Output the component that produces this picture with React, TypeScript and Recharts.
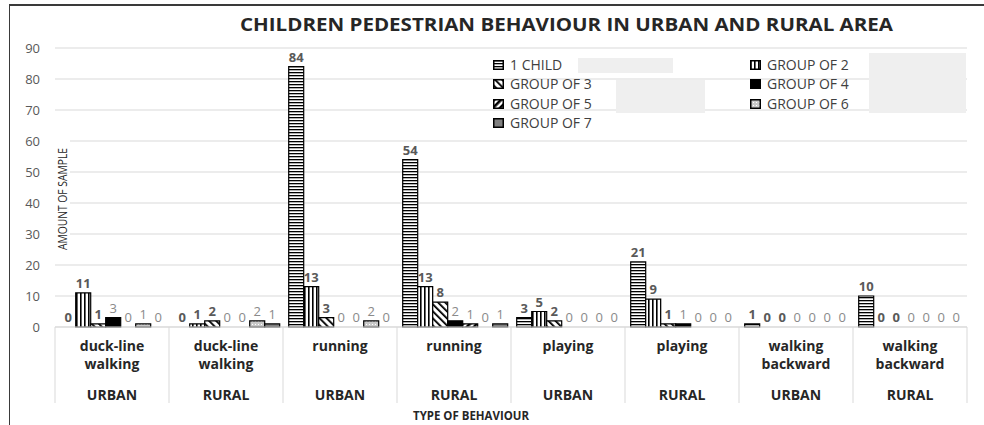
import React from 'react';
import {
  BarChart,
  Bar,
  XAxis,
  YAxis,
  CartesianGrid,
  Legend,
  Rectangle,
} from 'recharts';

const BEHAVIOURS = [
  'duck-line walking',
  'duck-line walking',
  'running',
  'running',
  'playing',
  'playing',
  'walking backward',
  'walking backward',
];
const AREAS = ['URBAN', 'RURAL', 'URBAN', 'RURAL', 'URBAN', 'RURAL', 'URBAN', 'RURAL'];

const ONE_CHILD = [0, 0, 84, 54, 3, 21, 1, 10];
const GROUP_OF_2 = [11, 1, 13, 13, 5, 9, 0, 0];
const GROUP_OF_3 = [1, 2, 3, 8, 2, 1, 0, 0];
const GROUP_OF_4 = [3, 0, 0, 2, 0, 1, 0, 0];
const GROUP_OF_5 = [0, 0, 0, 1, 0, 0, 0, 0];
const GROUP_OF_6 = [1, 2, 2, 0, 0, 0, 0, 0];
const GROUP_OF_7 = [0, 1, 0, 1, 0, 0, 0, 0];

const Y_TICKS = [0, 10, 20, 30, 40, 50, 60, 70, 80, 90];

const SERIES = [
  { key: 's1', name: '1 CHILD', values: ONE_CHILD, fill: 'url(#pat-h)', bold: true },
  { key: 's2', name: 'GROUP OF 2', values: GROUP_OF_2, fill: 'url(#pat-v)', bold: true },
  { key: 's3', name: 'GROUP OF 3', values: GROUP_OF_3, fill: 'url(#pat-d1)', bold: true },
  { key: 's4', name: 'GROUP OF 4', values: GROUP_OF_4, fill: '#000000', bold: false },
  { key: 's5', name: 'GROUP OF 5', values: GROUP_OF_5, fill: 'url(#pat-d2)', bold: false },
  { key: 's6', name: 'GROUP OF 6', values: GROUP_OF_6, fill: 'url(#pat-dot)', bold: false },
  { key: 's7', name: 'GROUP OF 7', values: GROUP_OF_7, fill: '#808080', bold: false },
];

const data = BEHAVIOURS.map((_, i) => {
  const row: Record<string, number | string> = { cat: String(i) };
  SERIES.forEach((s) => {
    row[s.key] = s.values[i];
  });
  return row;
});

const W = 984;
const H = 425;
const MARGIN = { top: 48, right: 17, bottom: 0, left: 0 };
const Y_W = 55;
const BAND = (W - MARGIN.left - MARGIN.right - Y_W) / BEHAVIOURS.length;
const FONT = '"Open Sans", sans-serif';

// legend slots: column x, row index
const LEGEND_POS: Record<string, [number, number]> = {
  s1: [493, 0],
  s2: [750, 0],
  s3: [493, 1],
  s4: [750, 1],
  s5: [493, 2],
  s6: [750, 2],
  s7: [493, 3],
};
const ROW_TOP = 56;
const ROW_H = 19.3;

function CategoryTick(props: any) {
  const { x, y, payload } = props;
  const i = Number(payload.value);
  const words = BEHAVIOURS[i].split(' ');
  const left = x - BAND / 2;
  const textStyle = { fontFamily: FONT, fontSize: 14, fontWeight: 700, fill: '#262626' };
  return (
    <g>
      <line x1={left} x2={left} y1={y} y2={y + 76} stroke="#d9d9d9" />
      {i === BEHAVIOURS.length - 1 && (
        <line x1={left + BAND} x2={left + BAND} y1={y} y2={y + 76} stroke="#d9d9d9" />
      )}
      {words.map((w, k) => (
        <text key={k} x={x} y={y + 24 + k * 18} textAnchor="middle" style={textStyle}>
          {w}
        </text>
      ))}
      <text x={x} y={y + 73} textAnchor="middle" style={textStyle}>
        {AREAS[i]}
      </text>
    </g>
  );
}

// bar rectangle plus its value label (zero-height bars still get their "0")
function makeBarShape(key: string, bold: boolean) {
  return (props: any) => {
    const { x, y, width, height, payload } = props;
    const value = payload ? payload[key] : props.value;
    return (
      <g>
        {height > 0 && <Rectangle {...props} />}
        <text
          x={Number(x) + Number(width) / 2}
          y={Number(y) - 5}
          textAnchor="middle"
          style={{
            fontFamily: FONT,
            fontSize: 13,
            fontWeight: bold ? 700 : 400,
            fill: bold ? '#595959' : '#8a8a8a',
          }}
        >
          {value}
        </text>
      </g>
    );
  };
}

function LegendIcon({ fill }: { fill: string }) {
  return (
    <svg width={11} height={10} style={{ position: 'absolute', left: 0, top: 4 }}>
      <rect x={0.75} y={0.75} width={9.5} height={8.5} fill={fill} stroke="#000" strokeWidth={1.5} />
    </svg>
  );
}

function renderLegend(props: any) {
  const { payload } = props;
  return (
    <div style={{ position: 'relative', width: W, height: H, pointerEvents: 'none' }}>
      <div style={{ position: 'absolute', left: 578, top: 58, width: 95, height: 15, background: '#efefef' }} />
      <div style={{ position: 'absolute', left: 616, top: 80, width: 89, height: 33, background: '#efefef' }} />
      <div style={{ position: 'absolute', left: 869, top: 53, width: 97, height: 60, background: '#efefef' }} />
      {(payload || []).map((entry: any) => {
        const s = SERIES.find((ser) => ser.key === entry.dataKey);
        if (!s) return null;
        const [lx, row] = LEGEND_POS[s.key];
        return (
          <div
            key={s.key}
            style={{
              position: 'absolute',
              left: lx,
              top: ROW_TOP + row * ROW_H,
              height: 18,
              paddingLeft: 17,
              fontFamily: FONT,
              fontSize: 14,
              lineHeight: '18px',
              color: '#404040',
              whiteSpace: 'nowrap',
            }}
          >
            <LegendIcon fill={s.fill} />
            {entry.value}
          </div>
        );
      })}
    </div>
  );
}

export default function App() {
  return (
    <div style={{ position: 'absolute', left: 0, top: 0, width: W, height: H, background: '#fff', overflow: 'hidden' }}>
      <div
        style={{
          position: 'absolute',
          left: 9,
          top: 4,
          width: W,
          height: H,
          borderTop: '2px solid #3a3a3a',
          borderLeft: '1.5px solid #3a3a3a',
        }}
      />
      <BarChart
        width={W}
        height={H}
        data={data}
        margin={MARGIN}
        barCategoryGap="5%"
        barGap={0}
      >
        <defs>
          <pattern id="pat-h" patternUnits="userSpaceOnUse" width={4} height={3}>
            <rect width={4} height={3} fill="#fff" />
            <rect width={4} height={1.3} fill="#000" />
          </pattern>
          <pattern id="pat-v" patternUnits="userSpaceOnUse" width={4} height={4}>
            <rect width={4} height={4} fill="#fff" />
            <rect width={1.6} height={4} fill="#000" />
          </pattern>
          <pattern id="pat-d1" patternUnits="userSpaceOnUse" width={5} height={5} patternTransform="rotate(-45)">
            <rect width={5} height={5} fill="#fff" />
            <rect width={1.8} height={5} fill="#000" />
          </pattern>
          <pattern id="pat-d2" patternUnits="userSpaceOnUse" width={5} height={5} patternTransform="rotate(45)">
            <rect width={5} height={5} fill="#fff" />
            <rect width={2.6} height={5} fill="#000" />
          </pattern>
          <pattern id="pat-dot" patternUnits="userSpaceOnUse" width={3} height={3}>
            <rect width={3} height={3} fill="#c8c8c8" />
            <rect width={1} height={1} fill="#fff" />
          </pattern>
        </defs>
        <CartesianGrid vertical={false} stroke="#d9d9d9" />
        <XAxis
          dataKey="cat"
          height={H - 327}
          axisLine={{ stroke: '#d9d9d9' }}
          tickLine={false}
          tickSize={0}
          tickMargin={0}
          interval={0}
          tick={<CategoryTick />}
        />
        <YAxis
          width={Y_W}
          domain={[0, 90]}
          ticks={Y_TICKS}
          axisLine={false}
          tickLine={false}
          tickSize={0}
          tickMargin={15}
          tick={{ fill: '#595959', fontSize: 13, fontFamily: FONT }}
        />
        <Legend
          layout="vertical"
          align="center"
          verticalAlign="middle"
          wrapperStyle={{ left: 0, top: 0, width: W, height: H, pointerEvents: 'none' }}
          content={renderLegend}
        />
        {SERIES.map((s) => (
          <Bar
            key={s.key}
            dataKey={s.key}
            name={s.name}
            fill={s.fill}
            stroke="#000"
            strokeWidth={1.2}
            isAnimationActive={false}
            shape={makeBarShape(s.key, s.bold)}
          />
        ))}
      </BarChart>
      <svg
        width={W}
        height={H}
        style={{ position: 'absolute', left: 0, top: 0, pointerEvents: 'none' }}
      >
        <text
          x={240}
          y={31}
          textLength={653}
          lengthAdjust="spacingAndGlyphs"
          style={{ fontFamily: FONT, fontSize: 17, fontWeight: 700, fill: '#262626' }}
        >
          CHILDREN PEDESTRIAN BEHAVIOUR IN URBAN AND RURAL AREA
        </text>
        <rect x={55} y={136} width={15} height={120} fill="#fff" />
        <text
          x={0}
          y={0}
          transform="translate(66.5 199) rotate(-90)"
          textAnchor="middle"
          textLength={102}
          lengthAdjust="spacingAndGlyphs"
          style={{ fontFamily: FONT, fontSize: 12, fill: '#262626' }}
        >
          AMOUNT OF SAMPLE
        </text>
        <text
          x={413}
          y={420}
          textLength={116}
          lengthAdjust="spacingAndGlyphs"
          style={{ fontFamily: FONT, fontSize: 12.5, fontWeight: 700, fill: '#262626' }}
        >
          TYPE OF BEHAVIOUR
        </text>
      </svg>
    </div>
  );
}
